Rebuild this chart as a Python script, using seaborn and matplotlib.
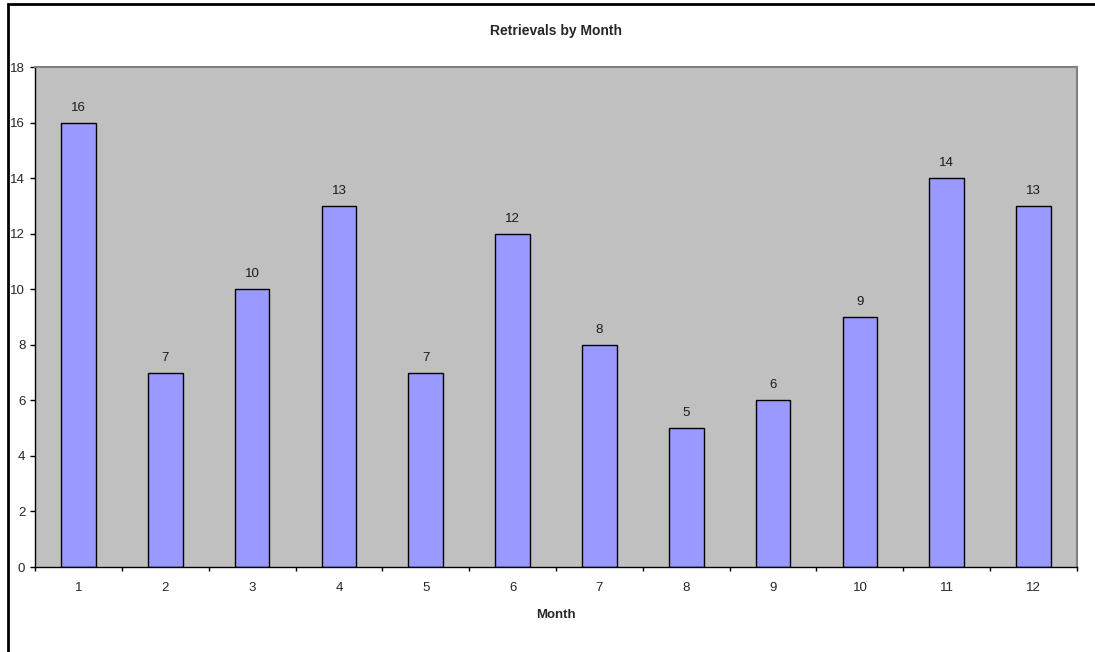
import matplotlib
matplotlib.use("Agg")
import matplotlib.pyplot as plt
from matplotlib.patches import Rectangle
from matplotlib.ticker import FixedLocator
import seaborn as sns
import pandas as pd

months = ["1", "2", "3", "4", "5", "6", "7", "8", "9", "10", "11", "12"]
retrievals = [16, 7, 10, 13, 7, 12, 8, 5, 6, 9, 14, 13]
y_ticks = [0, 2, 4, 6, 8, 10, 12, 14, 16, 18]

sns.set_style("white")
plt.rcParams["font.family"] = ["Liberation Sans", "DejaVu Sans"]

df = pd.DataFrame({"Month": months, "Retrievals": retrievals})

W, H = 1095, 652
fig = plt.figure(figsize=(W / 100, H / 100), dpi=100)
fig.patch.set_facecolor("white")

# chart frame: starts just inside the top-left corner and runs off the page
fig.patches.append(Rectangle((8 / W, -0.1), 1.2, 1 - 4 / H + 0.1,
                             transform=fig.transFigure, fill=False,
                             edgecolor="black", linewidth=2.0, zorder=0))

left, right, top, bottom = 35, 1077, 67, 567
ax = fig.add_axes([left / W, 1 - bottom / H, (right - left) / W, (bottom - top) / H])
ax.set_facecolor("#C0C0C0")

sns.barplot(data=df, x="Month", y="Retrievals", order=months, ax=ax,
            color="#9999FF", width=0.4, edgecolor="black", linewidth=1.0,
            saturation=1)

fs = 9.5
ax.bar_label(ax.containers[0], labels=[str(v) for v in retrievals],
             padding=6.5, fontsize=fs, color="#1a1a1a")

ax.set_xlim(-0.5, len(months) - 0.5)
ax.set_ylim(0, 18)
ax.set_yticks(y_ticks)
ax.set_yticklabels([str(t) for t in y_ticks])

# tick marks sit between categories, labels at the category centres
ax.xaxis.set_major_locator(FixedLocator([i - 0.5 for i in range(len(months) + 1)]))
ax.xaxis.set_major_formatter(plt.NullFormatter())
ax.xaxis.set_minor_locator(FixedLocator(list(range(len(months)))))
ax.set_xticklabels(months, minor=True)
ax.tick_params(axis="x", which="major", direction="out", length=3, width=1, color="black")
ax.tick_params(axis="x", which="minor", length=0, pad=10.5, labelsize=fs)
ax.tick_params(axis="y", direction="out", length=3.5, width=1, color="black",
               pad=3.5, labelsize=fs)
ax.tick_params(left=True, bottom=True)

for side in ["left", "bottom"]:
    ax.spines[side].set_color("black")
    ax.spines[side].set_linewidth(1.0)
for side in ["top", "right"]:
    ax.spines[side].set_color("#808080")
    ax.spines[side].set_linewidth(1.5)

ax.set_xlabel("Month", fontsize=fs, fontweight="bold", labelpad=11)
ax.set_ylabel("")
fig.text((left + right) / 2 / W, 1 - 31 / H, "Retrievals by Month",
         ha="center", va="center", fontsize=10, fontweight="bold")

fig.savefig("out.png", dpi=100)
